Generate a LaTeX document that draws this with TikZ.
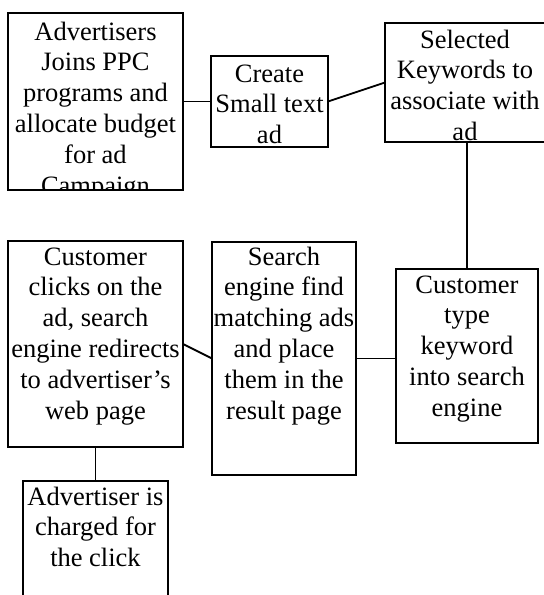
\documentclass[tikz,border=0pt]{standalone}
\usepackage{fontspec}
\setmainfont{Liberation Serif}
% centred, top-aligned stack of lines; baseline is the first line
\newcommand{\boxlines}[1]{\parbox[t]{220pt}{\centering #1}}

\begin{document}
\begin{tikzpicture}[x=1pt,y=-1pt,
  stepbox/.style={draw, line width=1.8pt, rectangle, inner sep=0pt, outer sep=0pt, anchor=north west},
  steptext/.style={anchor=base, inner sep=0pt, font=\fontsize{26.5pt}{30.8pt}\selectfont},
  link/.style={line width=1.8pt}]

\useasboundingbox (0,0) rectangle (544,595);
\clip (0,0) rectangle (544,595);
\fill[white] (0,0) rectangle (544,595);

% process boxes
\node[stepbox, minimum width=175pt, minimum height=177pt] (b1) at (8,13) {};
\node[stepbox, minimum width=117pt, minimum height=91pt]  (b2) at (211,56) {};
\node[stepbox, minimum width=160pt, minimum height=119pt] (b3) at (385,23) {};
\node[stepbox, minimum width=142pt, minimum height=174pt] (b4) at (396,269) {};
\node[stepbox, minimum width=144pt, minimum height=233pt] (b5) at (212,242) {};
\node[stepbox, minimum width=175pt, minimum height=206pt] (b6) at (8,241) {};
\node[stepbox, minimum width=145pt, minimum height=140pt] (b7) at (23,481) {};

% box texts (the first one runs past its box and is cut off)
\begin{scope}
  \clip (b1.south west) rectangle (b1.north east);
  \node[steptext] (t1) at ([yshift=-27pt]b1.north)
    {\boxlines{Advertisers\\Joins PPC\\programs and\\allocate budget\\for ad\\Campaign}};
\end{scope}
\node[steptext] (t2) at ([yshift=-26pt]b2.north) {\boxlines{Create\\Small text\\ad}};
\node[steptext] (t3) at ([yshift=-25pt]b3.north) {\boxlines{Selected\\Keywords to\\associate with\\ad}};
\node[steptext] (t4) at ([yshift=-24pt]b4.north) {\boxlines{Customer\\type\\keyword\\into search\\engine}};
\node[steptext] (t5) at ([yshift=-23pt]b5.north) {\boxlines{Search\\engine find\\matching ads\\and place\\them in the\\result page}};
\node[steptext] (t6) at ([yshift=-24pt]b6.north) {\boxlines{Customer\\clicks on the\\ad, search\\engine redirects\\to advertiser’s\\web page}};
\node[steptext] (t7) at ([yshift=-24pt]b7.north) {\boxlines{Advertiser is\\charged for\\the click}};

% connectors
\draw[link] (b1.east) -- (b2.west);
\draw[link] (b2.east) -- (b3.west);
\draw[link] (b3.south -| b4.north) -- (b4.north);
\draw[link] (b5.east) -- (b5.east -| b4.west);
\draw[link] (b6.east) -- (b5.west);
\draw[link] (b6.south) -- (b7.north);
\end{tikzpicture}
\end{document}
